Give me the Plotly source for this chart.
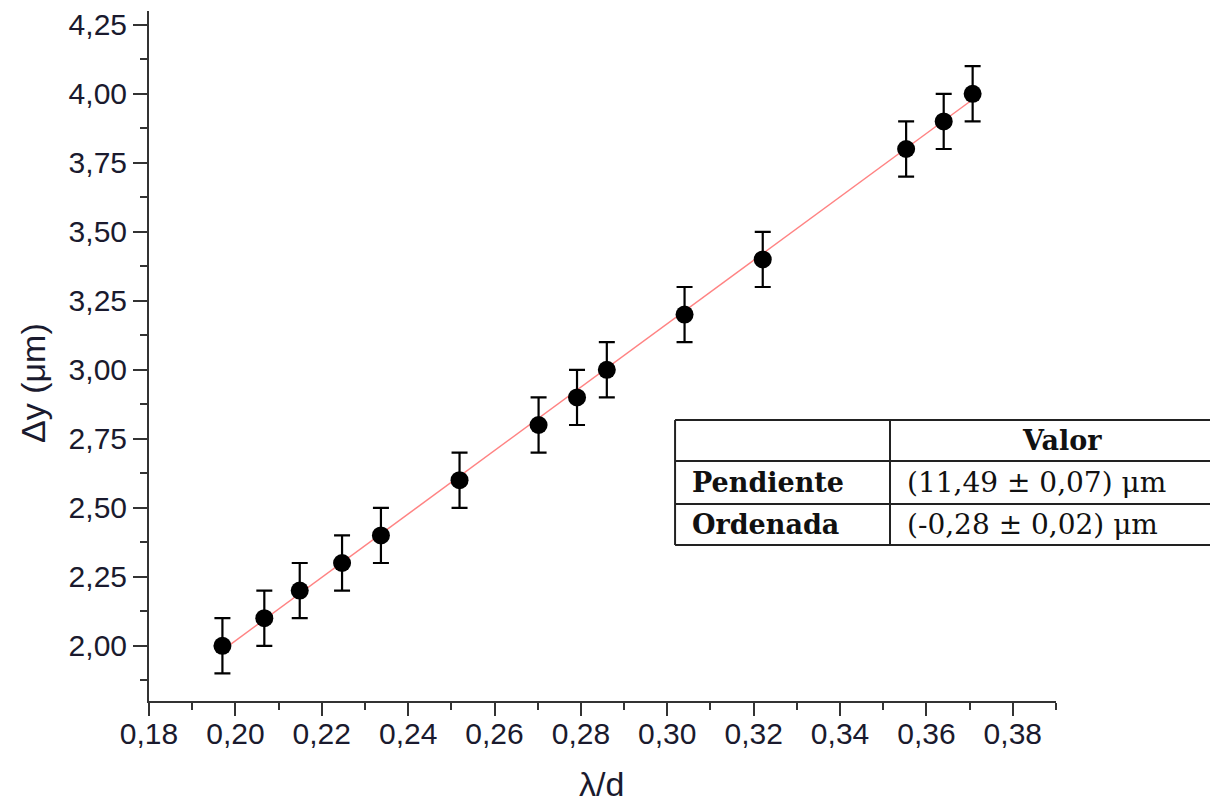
import numpy as np
import plotly.graph_objects as go

# Data
lambda_over_d = [0.197, 0.2067, 0.2149, 0.2247, 0.2337, 0.2519, 0.2702,
                 0.2791, 0.2860, 0.3040, 0.3221, 0.3553, 0.3640, 0.3707]
delta_y = [2.00, 2.10, 2.20, 2.30, 2.40, 2.60, 2.80,
           2.90, 3.00, 3.20, 3.40, 3.80, 3.90, 4.00]
delta_y_err = [0.10] * len(delta_y)

fit_slope = 11.49
fit_intercept = -0.28

x_title = "λ/d"
y_title = "Δy (μm)"
table_rows = ["Pendiente", "Ordenada"]
table_values = ["(11,49 ± 0,07) μm", "(-0,28 ± 0,02) μm"]
table_header = "Valor"

x_fit = np.array([min(lambda_over_d), max(lambda_over_d)])
y_fit = fit_slope * x_fit + fit_intercept

fig = go.Figure()
fig.add_trace(go.Scatter(
    x=x_fit, y=y_fit, mode="lines",
    line=dict(color="rgba(255,90,90,0.75)", width=1.5),
    showlegend=False, hoverinfo="skip"))
fig.add_trace(go.Scatter(
    x=lambda_over_d, y=delta_y, mode="markers",
    marker=dict(color="black", size=18),
    error_y=dict(type="data", array=delta_y_err, visible=True,
                 color="black", thickness=2.2, width=8),
    showlegend=False))

axis_font = dict(family="Liberation Sans, Arial", size=30, color="#1a1a2e")
title_font = dict(family="Liberation Sans, Arial", size=34, color="#1a1a2e")

# page body adds an 8px offset; margins compensate so the plot area
# sits at x 149..1056, y 11..701 on screen
fig.update_layout(
    width=1210, height=803,
    margin=dict(l=141, r=162, t=3, b=110, autoexpand=False),
    paper_bgcolor="white", plot_bgcolor="white",
    separators=",.",
    font=axis_font,
    xaxis=dict(
        range=[0.18, 0.39], tick0=0.18, dtick=0.02, tickformat=".2f",
        automargin=False,
        showgrid=False, zeroline=False,
        showline=True, linecolor="#333", linewidth=2,
        ticks="outside", ticklen=13, tickwidth=2, tickcolor="#333",
        ticklabelstandoff=-8,
        minor=dict(dtick=0.01, tick0=0.18, ticks="outside", ticklen=7,
                   tickwidth=2, tickcolor="#333", showgrid=False),
        tickfont=axis_font,
    ),
    yaxis=dict(
        range=[1.80, 4.30], tick0=2.0, dtick=0.25, tickformat=".2f",
        automargin=False,
        showgrid=False, zeroline=False,
        showline=True, linecolor="#333", linewidth=2,
        ticks="outside", ticklen=14, tickwidth=2, tickcolor="#333",
        minor=dict(dtick=0.125, tick0=2.0, ticks="outside", ticklen=7,
                   tickwidth=2, tickcolor="#333", showgrid=False),
        tickfont=axis_font,
    ),
)

# Axis titles (placed as in the reference)
fig.add_annotation(xref="paper", yref="paper", x=(601 - 149) / 907,
                   y=(701 - 784) / 690, text=x_title, showarrow=False,
                   font=title_font, xanchor="center", yanchor="middle")
fig.add_annotation(xref="paper", yref="paper", x=(33 - 149) / 907,
                   y=(701 - 383) / 690, text=y_title, showarrow=False,
                   font=title_font, textangle=-90,
                   xanchor="center", yanchor="middle")

# Table (paper coordinates)
tx0, tx_mid, tx1 = 0.580, 0.817, 1.20
ty = [0.4072, 0.3478, 0.2855, 0.2261]
line_style = dict(color="#222", width=2)
for yv in ty:
    fig.add_shape(type="line", xref="paper", yref="paper",
                  x0=tx0, x1=tx1, y0=yv, y1=yv, line=line_style)
for xv in (tx0, tx_mid):
    fig.add_shape(type="line", xref="paper", yref="paper",
                  x0=xv, x1=xv, y0=ty[0], y1=ty[3], line=line_style)

serif_bold = dict(family="DejaVu Serif", size=27, color="#111")
serif = dict(family="DejaVu Serif", size=28, color="#111")

fig.add_annotation(xref="paper", yref="paper", x=(1062 - 149) / 907,
                   y=(ty[0] + ty[1]) / 2, text="<b>%s</b>" % table_header,
                   showarrow=False, font=serif_bold, xanchor="center",
                   yanchor="middle")
for i, (name, val) in enumerate(zip(table_rows, table_values)):
    yc = (ty[i + 1] + ty[i + 2]) / 2
    fig.add_annotation(xref="paper", yref="paper", x=(690 - 149) / 907,
                       y=yc, text="<b>%s</b>" % name, showarrow=False,
                       font=serif_bold, xanchor="left", yanchor="middle")
    fig.add_annotation(xref="paper", yref="paper", x=(905 - 149) / 907,
                       y=yc, text=val, showarrow=False,
                       font=serif, xanchor="left", yanchor="middle")

fig.write_html("out.html")
